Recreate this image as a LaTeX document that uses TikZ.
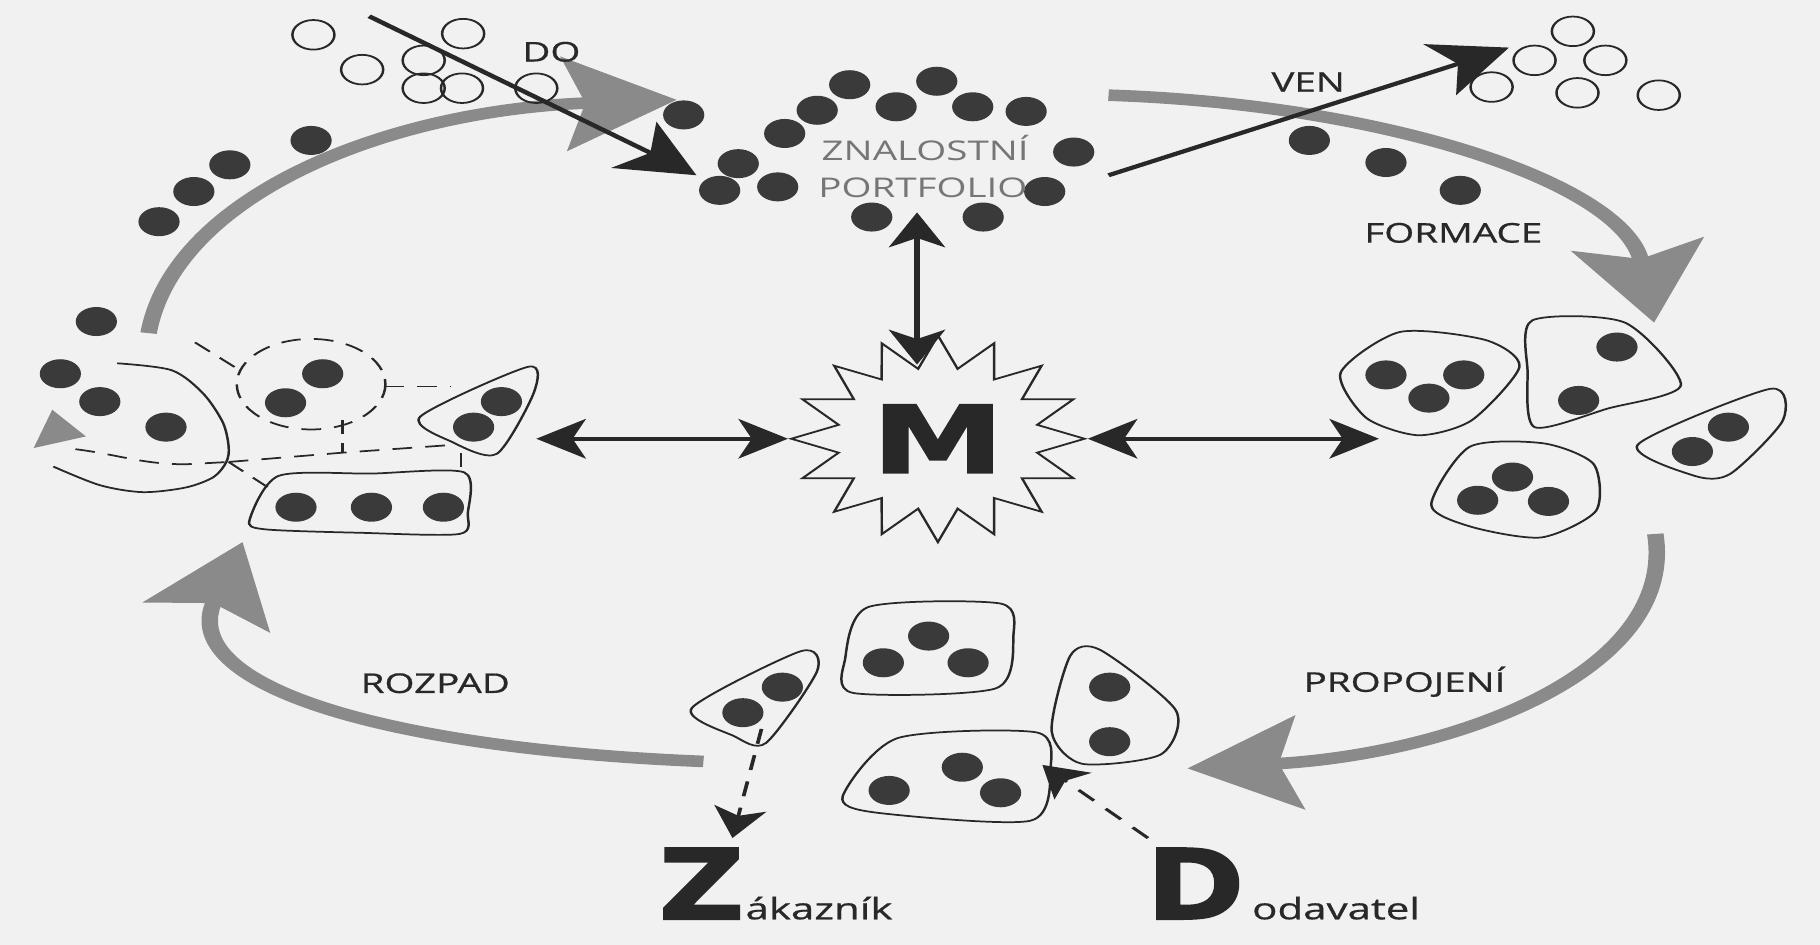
\documentclass[tikz,border=0pt]{standalone}
\usepackage{fontspec}
\setmainfont{Open Sans}
\newfontfamily\labelfont[FakeBold=0.6]{Open Sans}
\newfontfamily\heavyfont[FakeStretch=0.85,FakeBold=1.5]{DejaVu Sans}
\newfontfamily\heavywide[FakeBold=1.5]{DejaVu Sans}
\usetikzlibrary{positioning}
\usetikzlibrary{arrows.meta}
\usetikzlibrary{shapes.geometric}
\definecolor{paper}{RGB}{241,241,241}
\definecolor{ink}{RGB}{40,40,40}
\definecolor{dotgray}{RGB}{58,58,58}
\definecolor{flowgray}{RGB}{138,138,138}
\definecolor{textgray}{RGB}{118,118,118}
\tikzset{
    dot/.style={
        circle,
        fill=dotgray,
        inner sep=0pt,
        minimum size=5mm},
    hole/.style={
        circle,
        draw=ink,
        line width=0.3mm,
        inner sep=0pt,
        minimum size=5.1mm},
    wall/.style={
        draw=ink,
        line width=0.3mm},
    blob/.style={
        wall,
        smooth cycle,
        tension=0.45},
    dashline/.style={
        wall,
        dash pattern=on 2.4mm off 1.6mm},
    flow/.style={
        draw=flowgray,
        line width=2mm,
        -{Stealth[length=13.6mm,width=16mm,inset=2.5mm]}},
    transfer/.style={
        draw=ink,
        line width=0.7mm,
        -{Stealth[length=9.2mm,width=9.6mm,inset=2.4mm]}},
    link/.style={
        draw=ink,
        line width=0.7mm,
        {Stealth[length=6mm,width=6.8mm,inset=1.6mm]}-{Stealth[length=6mm,width=6.8mm,inset=1.6mm]}},
    hint/.style={
        draw=ink,
        line width=0.45mm,
        dash pattern=on 2.6mm off 2mm,
        -{Stealth[length=5.2mm,width=6.4mm,inset=1.3mm]}},
    tag/.style={
        inner sep=0pt,
        anchor=base,
        text=ink,
        font=\labelfont\fontsize{13.3}{15}\selectfont},
    pftext/.style={
        tag,
        text=textgray,
        font=\fontsize{13.3}{15}\selectfont},
    bigletter/.style={
        inner sep=0pt,
        anchor=base west,
        text=ink,
        font=\heavyfont\bfseries\fontsize{48}{48}\selectfont},
    bigM/.style={
        inner sep=0pt,
        text=ink,
        font=\heavywide\bfseries\fontsize{46}{46}\selectfont},
    rest/.style={
        inner sep=0pt,
        anchor=base west,
        text=ink,
        font=\labelfont\fontsize{14.5}{16}\selectfont},
    spiky/.style={
        star,
        star points=16,
        star point ratio=1.45,
        draw=ink,
        line width=0.3mm,
        inner sep=0pt,
        minimum size=35.6mm}}

\begin{document}
\begin{tikzpicture}[x=0.2mm,y=-0.2mm]
    \fill[paper] (0,0) rectangle (1568,814);
    \useasboundingbox (0,0) rectangle (1568,814);
    \begin{scope}[x=0.14085mm,transform canvas={xscale=1.42}]
        % grey cycle
        \coordinate (in-a) at (128,287);
        \coordinate (in-b) at (583,86);
        \coordinate (form-a) at (955,82);
        \coordinate (form-b) at (1425,278);
        \coordinate (prop-a) at (1426,460);
        \coordinate (prop-b) at (1023,662);
        \coordinate (roz-a) at (606,656);
        \coordinate (roz-b) at (209,467);
        \draw[flow] (in-a) .. controls (150,170) and (330,95) .. (in-b);
        \draw[flow] (form-a) .. controls (1200,90) and (1400,160) .. (form-b);
        \draw[flow] (prop-a) .. controls (1445,580) and (1250,650) .. (prop-b);
        \draw[flow] (roz-a) .. controls (330,645) and (150,590) .. (roz-b);
        \fill[flowgray] (45,353) -- (74,376) -- (29,386) -- cycle;

        % left: falling apart
        \draw[wall] plot[smooth] coordinates {(101,313) (148,319) (175,339) (192,364) (197,385)
            (195,398) (184,411) (160,420) (123,424) (86,418) (46,402)};
        \draw[dashline] (65,387) to[out=-10,in=180] (160,400) -- (197,398);
        \draw[dashline] (197,398) -- (295,390) -- (394,383);
        \draw[dashline] (197,398) -- (231,420);
        \draw[dashline] (168,295) -- (205,318);
        \draw[dashline] (268,331) ellipse [x radius=64, y radius=39];
        \draw[dashline] (331,333) -- (388,333);
        \draw[dashline] (295,362) -- (295,390);
        \draw[dashline] (397,390) -- (397,408);
        \draw[blob] plot coordinates {(362,359) (455,316) (460,338) (428,391) (390,381)};
        \draw[blob] plot coordinates {(215,448) (240,410) (320,408) (400,407) (403,442) (396,460)
            (310,459) (228,456)};

        % right: formation
        \draw[blob] plot coordinates {(1155,321) (1206,286) (1280,293) (1309,316)
            (1268,362) (1222,375) (1177,360)};
        \draw[blob] plot coordinates {(1320,276) (1400,278) (1448,332) (1385,352) (1322,368)
            (1316,320)};
        \draw[blob] plot coordinates {(1411,383) (1525,335) (1536,362) (1491,408) (1460,410)};
        \draw[blob] plot coordinates {(1233,435) (1266,385) (1330,382) (1373,400) (1375,440)
            (1328,463) (1268,454)};

        % bottom: linking
        \draw[blob] plot coordinates {(596,610) (690,561) (704,578) (660,640) (632,634)};
        \draw[blob] plot coordinates {(728,568) (748,523) (862,520) (873,548) (858,593) (735,597)};
        \draw[blob] plot coordinates {(906,630) (922,565) (948,560) (1013,612) (1000,650) (932,658)};
        \draw[blob] plot coordinates {(726,686) (773,636) (893,631) (905,662) (888,707) (754,700)};

        % knowledge units
        \foreach \x/\y [count=\i] in {589/99, 704/95, 732/73, 772/92, 807/70, 838/92, 884/96,
            676/115, 925/131, 636/141, 670/161, 620/164, 900/165, 751/187, 847/187}
            \node[dot] (pf\i) at (\x,\y) {};
        \foreach \x/\y [count=\i] in {137/191, 167/165, 198/142, 268/121}
            \node[dot] (back\i) at (\x,\y) {};
        \foreach \x/\y [count=\i] in {1128/121, 1194/140, 1258/164}
            \node[dot] (form\i) at (\x,\y) {};
        \foreach \x/\y [count=\i] in {83/277, 52/322, 86/346, 143/368, 278/322, 246/347,
            432/346, 408/368, 255/437, 320/437, 382/437}
            \node[dot] (left\i) at (\x,\y) {};
        \foreach \x/\y [count=\i] in {1194/323, 1261/323, 1231/343, 1393/299, 1360/345,
            1489/368, 1458/389, 1303/411, 1273/431, 1334/432}
            \node[dot] (right\i) at (\x,\y) {};
        \foreach \x/\y [count=\i] in {674/592, 640/614, 800/548, 761/571, 834/571, 956/592,
            956/639, 829/661, 766/681, 862/683}
            \node[dot] (low\i) at (\x,\y) {};
        \foreach \x/\y [count=\i] in {270/30, 399/29, 312/60, 365/52, 365/76, 398/76, 462/76}
            \node[hole] (in\i) at (\x,\y) {};
        \foreach \x/\y [count=\i] in {1355/27, 1322/52, 1383/52, 1285/75, 1359/80, 1429/82}
            \node[hole] (out\i) at (\x,\y) {};

        % management
        \node[spiky] (star) at (808,378) {};
        \node[bigM] (M) at (star.center) {M};
        \coordinate (pf-base) at (790,183);
        \coordinate (left-end) at (462,378);
        \coordinate (right-end) at (1188,378);
        \draw[link] (pf-base) -- (pf-base |- star.100);
        \draw[link] (left-end) -- (star.west);
        \draw[link] (star.east) -- (right-end);

        % in and out
        \coordinate (do-a) at (318,14);
        \coordinate (do-b) at (600,151);
        \coordinate (ven-a) at (955,151);
        \coordinate (ven-b) at (1300,41);
        \draw[transfer] (do-a) -- (do-b);
        \draw[transfer] (ven-a) -- (ven-b);

        % customer and supplier
        \node[bigletter] (Z) at (567,792) {Z};
        \node[rest] (zak) at (Z.base east) {ákazník};
        \node[bigletter] (D) at (987,792) {D};
        \node[rest,xshift=0.8mm] (dod) at (D.base east) {odavatel};
        \coordinate (z-from) at (656,628);
        \coordinate (z-to) at (631,722);
        \coordinate (d-from) at (989,722);
        \coordinate (d-to) at (898,659);
        \draw[hint] (z-from) -- (z-to);
        \draw[hint] (d-from) -- (d-to);

        % labels
        \node[tag] (do) at (475,53) {DO};
        \node[tag] (ven) at (1127,79) {VEN};
        \node[tag] (formace) at (1252,209) {FORMACE};
        \node[tag] (propojeni) at (1210,596) {PROPOJENÍ};
        \node[tag] (rozpad) at (375,597) {ROZPAD};
        \node[pftext] (znalostni) at (797,138) {ZNALOSTNÍ};
        \node[pftext] (portfolio) at (795,170) {PORTFOLIO};
    \end{scope}
\end{tikzpicture}
\end{document}
